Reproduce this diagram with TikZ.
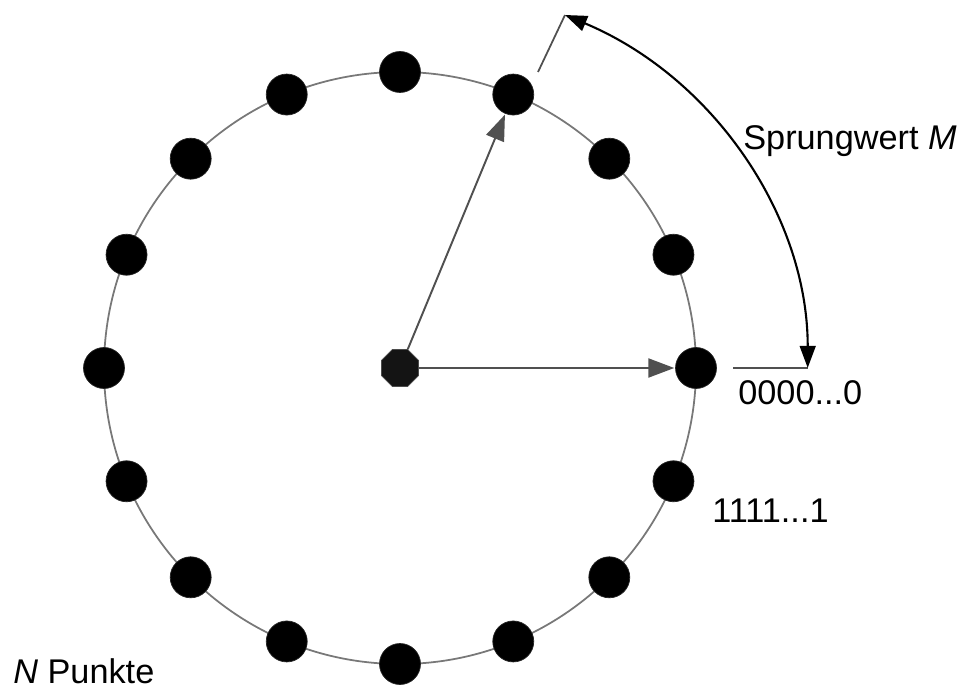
\documentclass[tikz,border=0pt]{standalone}
\usepackage{fontspec}
\setmainfont{Liberation Sans}
\usetikzlibrary{arrows.meta,shapes.geometric}

\definecolor{ringgray}{RGB}{120,120,120}
\definecolor{raygray}{RGB}{80,80,80}
\definecolor{hubblack}{RGB}{20,20,20}

\begin{document}
\begin{tikzpicture}[
every node/.style={
font=\fontsize{19.5}{23}\selectfont
},
ray/.style={-{Triangle[length=14.7pt,width=10.8pt]}, line width=1.1pt, draw=raygray, shorten >=0.5pt},
swing/.style={{Triangle[length=12.5pt,width=9pt]}-{Triangle[length=12.5pt,width=9pt]}, line width=1.2pt, black},
tick/.style={line width=1pt, draw=raygray}
]

% =====================================================
% Styles
% =====================================================

\tikzstyle{dot} =
[circle, fill=black, draw=black!85,
inner sep=0pt, minimum size=0.82cm]

\tikzstyle{hub} =
[regular polygon, regular polygon sides=8,
fill=hubblack, draw=black!70,
inner sep=0pt, minimum size=0.8cm]

\tikzstyle{label} =
[inner sep=0pt, anchor=base west]

\useasboundingbox (-8,-6.44) rectangle (11.26,7.36);

% =====================================================
% Nodes
% =====================================================

\coordinate (c0) at (0,0);

\draw [line width=1pt, ringgray] (c0) circle[radius=5.92];

\foreach \i in {0,...,15}
\node (p\i) [dot] at (\i*22.5:5.92) {};

\node (hub) [hub] at (c0) {};

\coordinate (zeroA) at (6.66,0);
\coordinate (zeroB) at (8.16,0);
\coordinate (jumpA) at (2.76,5.92);
\coordinate (jumpB) at (3.30,7.06);

\node (sprung) [label] at (6.86,4.36) {Sprungwert \textit{M}};

\node (zeros) [label] at (6.76,-0.72) {0000...0};

\node (ones) [label] at (6.24,-3.08) {1111...1};

\node (npunkte) [label] at (-7.74,-6.30) {\textit{N} Punkte};

% =====================================================
% Arrows
% =====================================================

\draw [ray] (hub) -- (p0);

\draw [ray] (hub) -- (p3);

\draw [tick] (zeroA) -- (zeroB);

\draw [tick] (jumpA) -- (jumpB);

\draw [swing] (jumpB) arc[start angle=66.1, end angle=0, x radius=8.16, y radius=7.72];

\end{tikzpicture}
\end{document}
